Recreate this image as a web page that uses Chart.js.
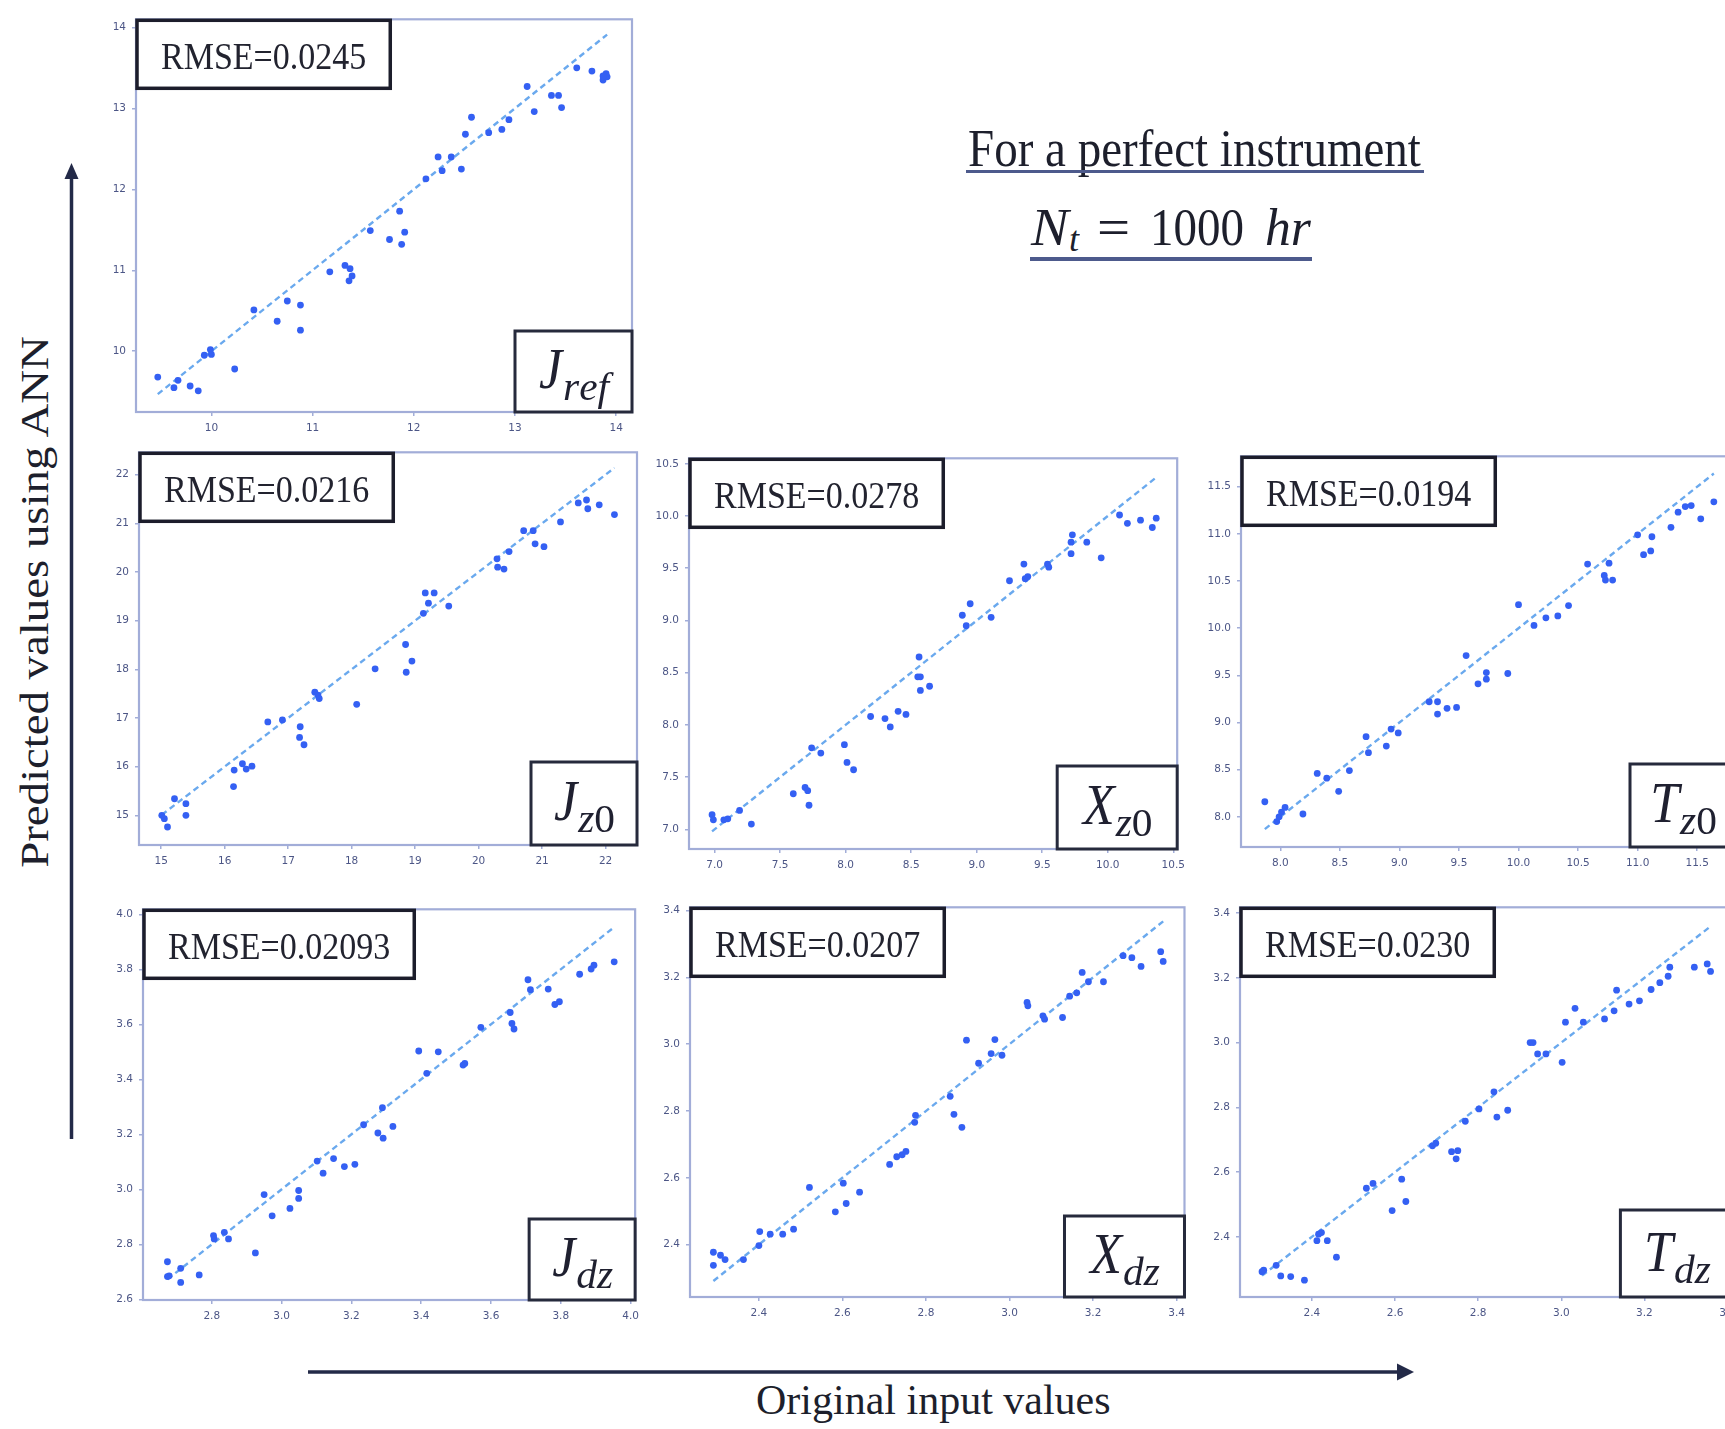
<!DOCTYPE html>
<html>
<head>
<meta charset="utf-8">
<script src="https://cdn.jsdelivr.net/npm/chart.js@4.4.1/dist/chart.umd.min.js"></script>
<style>
  html, body { margin: 0; padding: 0; background: #fff; }
  body { width: 1725px; height: 1429px; position: relative; overflow: hidden; }
  canvas.panel { position: absolute; }
  .txt { position: absolute; font-family: "Liberation Serif", "Times New Roman", serif; color: #1d1f2c;
         white-space: nowrap; line-height: 1; transform-origin: 0 83.75%; }
  .rule { position: absolute; background: #4d5a8c; height: 3.5px; }
  svg { position: absolute; left: 0; top: 0; }
</style>
</head>
<body>
<svg width="1725" height="1429">
  <line x1="71.5" y1="1139" x2="71.5" y2="176" stroke="#232a48" stroke-width="3.5"/>
  <polygon points="71.5,163 64.5,179 78.5,179" fill="#232a48"/>
  <line x1="308" y1="1372" x2="1400" y2="1372" stroke="#232a48" stroke-width="3.5"/>
  <polygon points="1414,1372 1397,1363.5 1397,1380.5" fill="#232a48"/>
</svg>

<div class="txt" style="font-size:47px;left:968px;top:127.3px;transform:scaleY(1.13);">For a perfect instrument</div>
<div class="rule" style="left:966px;top:169.5px;width:458px;"></div>

<div class="txt" style="font-size:47px;font-style:italic;left:1031px;top:205.6px;transform:scale(1.2,1.13);">N</div>
<div class="txt" style="font-size:33px;font-style:italic;left:1069px;top:224.4px;transform:scale(1.1,1.1);">t</div>
<div class="txt" style="font-size:47px;left:1097px;top:205.6px;transform:scale(1.25,1.13);">=</div>
<div class="txt" style="font-size:47px;left:1150px;top:205.6px;transform:scaleY(1.13);">1000</div>
<div class="txt" style="font-size:47px;font-style:italic;left:1265px;top:205.6px;transform:scale(1.1,1.13);">hr</div>
<div class="rule" style="left:1030px;top:257px;width:282px;"></div>

<div class="txt" style="font-size:40px;left:35px;top:602px;transform-origin:50% 50%;transform:translate(-50%,-50%) rotate(-90deg) scaleX(1.17);">Predicted values using ANN</div>
<div class="txt" style="font-size:42px;left:756px;top:1378.8px;">Original input values</div>

<script>
// ---- J_ref ----
const jrefOriginal  = [9.47,9.63,9.67,9.79,9.87,9.93,9.99,10.00,10.23,10.42,10.65,10.75,10.88,10.88,11.17,11.32,11.37,11.39,11.36,11.57,11.76,11.86,11.88,11.91,12.12,12.24,12.28,12.37,12.47,12.51,12.57,12.74,12.87,12.94,13.12,13.19,13.36,13.43,13.46,13.61,13.76,13.87,13.90,13.91,13.87];
const jrefPredicted = [9.68,9.55,9.64,9.57,9.51,9.95,10.02,9.96,9.78,10.51,10.37,10.62,10.57,10.26,10.98,11.06,11.02,10.93,10.87,11.49,11.38,11.73,11.32,11.47,12.13,12.40,12.23,12.40,12.25,12.68,12.89,12.70,12.74,12.86,13.27,12.96,13.16,13.16,13.01,13.50,13.46,13.35,13.43,13.39,13.40];
const jrefTicks = [10, 11, 12, 13, 14];

// ---- J_z0 ----
const jz0Original  = [15.01,15.05,15.10,15.21,15.39,15.39,16.14,16.15,16.28,16.34,16.43,16.68,16.91,17.19,17.18,17.25,17.42,17.47,17.49,18.08,18.37,18.85,18.86,18.95,19.13,19.21,19.16,19.30,19.53,20.29,20.30,20.40,20.48,20.71,20.86,20.89,21.03,21.29,21.57,21.70,21.72,21.90,22.14];
const jz0Predicted = [15.00,14.93,14.76,15.34,15.24,15.00,15.59,15.93,16.06,15.95,16.01,16.92,16.96,16.82,16.60,16.45,17.53,17.47,17.40,17.28,18.01,18.51,17.94,18.17,19.15,19.36,19.57,19.57,19.30,20.27,20.10,20.06,20.42,20.85,20.85,20.58,20.52,21.03,21.42,21.48,21.30,21.38,21.18];
const jz0Ticks = [15, 16, 17, 18, 19, 20, 21, 22];

// ---- X_z0 ----
const xz0Original  = [6.98,6.99,7.07,7.10,7.19,7.28,7.60,7.69,7.71,7.72,7.74,7.81,7.99,8.01,8.06,8.19,8.30,8.34,8.40,8.46,8.55,8.57,8.56,8.57,8.64,8.89,8.92,8.95,9.11,9.25,9.36,9.37,9.39,9.54,9.55,9.72,9.73,9.72,9.84,9.95,10.09,10.15,10.25,10.34,10.37];
const xz0Predicted = [7.14,7.09,7.09,7.10,7.18,7.05,7.34,7.40,7.37,7.23,7.78,7.73,7.81,7.64,7.57,8.08,8.06,7.98,8.13,8.10,8.46,8.46,8.65,8.33,8.37,9.05,8.95,9.16,9.03,9.38,9.54,9.40,9.42,9.54,9.51,9.75,9.82,9.64,9.75,9.60,10.01,9.93,9.96,9.89,9.98];
const xz0Ticks = [7.0, 7.5, 8.0, 8.5, 9.0, 9.5, 10.0, 10.5];

// ---- T_z0 ----
const tz0Original  = [7.87,7.97,7.99,8.01,8.04,8.19,8.31,8.39,8.49,8.58,8.72,8.74,8.89,8.93,8.99,9.25,9.32,9.32,9.40,9.48,9.56,9.66,9.73,9.73,9.91,10.00,10.13,10.23,10.33,10.42,10.58,10.72,10.73,10.79,10.76,11.00,11.05,11.11,11.12,11.28,11.34,11.40,11.45,11.53,11.64];
const tz0Predicted = [8.16,7.95,8.00,8.05,8.10,8.03,8.46,8.41,8.27,8.49,8.85,8.68,8.75,8.93,8.89,9.22,9.22,9.09,9.15,9.16,9.71,9.41,9.53,9.46,9.52,10.25,10.03,10.11,10.13,10.24,10.68,10.56,10.51,10.51,10.69,10.99,10.78,10.82,10.97,11.07,11.23,11.29,11.30,11.16,11.34];
const tz0Ticks = [8.0, 8.5, 9.0, 9.5, 10.0, 10.5, 11.0, 11.5];

// ---- J_dz ----
const jdzOriginal  = [2.673,2.673,2.678,2.711,2.711,2.764,2.805,2.807,2.836,2.848,2.925,2.950,2.973,3.024,3.049,3.049,3.102,3.119,3.149,3.180,3.210,3.235,3.276,3.291,3.289,3.319,3.393,3.416,3.449,3.520,3.525,3.571,3.655,3.660,3.666,3.706,3.713,3.764,3.783,3.796,3.854,3.887,3.895,3.953];
const jdzPredicted = [2.737,2.683,2.686,2.713,2.662,2.689,2.832,2.820,2.844,2.820,2.769,2.981,2.904,2.931,2.996,2.967,3.103,3.059,3.112,3.083,3.091,3.235,3.205,3.186,3.297,3.229,3.503,3.422,3.500,3.452,3.458,3.589,3.643,3.603,3.583,3.762,3.726,3.728,3.672,3.682,3.782,3.801,3.815,3.827];
const jdzXTicks = [2.8, 3.0, 3.2, 3.4, 3.6, 3.8, 4.0];
const jdzYTicks = [2.6, 2.8, 3.0, 3.2, 3.4, 3.6, 3.8, 4.0];

// ---- X_dz ----
const xdzOriginal  = [2.291,2.291,2.308,2.319,2.363,2.400,2.402,2.427,2.457,2.483,2.521,2.583,2.609,2.602,2.641,2.713,2.730,2.743,2.752,2.773,2.775,2.858,2.867,2.886,2.897,2.926,2.956,2.965,2.982,3.042,3.044,3.080,3.084,3.127,3.144,3.161,3.174,3.189,3.225,3.272,3.293,3.315,3.362,3.368];
const xdzPredicted = [2.377,2.338,2.368,2.355,2.355,2.397,2.439,2.431,2.431,2.446,2.571,2.498,2.523,2.584,2.557,2.640,2.663,2.669,2.679,2.766,2.787,2.844,2.790,2.751,3.012,2.943,2.972,3.014,2.967,3.125,3.115,3.085,3.075,3.080,3.144,3.154,3.215,3.187,3.187,3.265,3.259,3.233,3.277,3.248];
const xdzTicks = [2.4, 2.6, 2.8, 3.0, 3.2, 3.4];

// ---- T_dz ----
const tdzOriginal  = [2.280,2.284,2.314,2.325,2.349,2.382,2.412,2.416,2.423,2.437,2.459,2.531,2.547,2.593,2.616,2.626,2.690,2.698,2.736,2.751,2.747,2.769,2.802,2.838,2.845,2.871,2.925,2.932,2.943,2.963,3.002,3.010,3.033,3.053,3.104,3.127,3.133,3.163,3.188,3.216,3.237,3.257,3.261,3.320,3.351,3.359];
const tdzPredicted = [2.292,2.297,2.312,2.279,2.277,2.266,2.388,2.408,2.413,2.388,2.337,2.550,2.565,2.481,2.578,2.509,2.681,2.689,2.663,2.666,2.641,2.757,2.795,2.848,2.770,2.791,3.000,3.000,2.965,2.965,2.939,3.063,3.106,3.063,3.073,3.098,3.162,3.119,3.129,3.164,3.185,3.205,3.233,3.233,3.243,3.220];
const tdzTicks = [2.4, 2.6, 2.8, 3.0, 3.2, 3.4];

// Scale space reserved around each plot area (px)
const YW = 46, XH = 30, TP = 6, RP = 6;
const SPINE = '#a2add8';
const TICK_TEXT = '#4c5686';

// Frame, RMSE box and symbol box drawn on top of each panel
const panelDecor = {
  id: 'panelDecor',
  afterDatasetsDraw(chart, args, o) {
    const a = chart.chartArea, ctx = chart.ctx;
    ctx.save();
    ctx.strokeStyle = SPINE; ctx.lineWidth = 2.2;
    ctx.strokeRect(a.left, a.top, a.right - a.left, a.bottom - a.top);

    // RMSE box (top-left)
    ctx.font = '34px "Liberation Serif"';
    const tw = ctx.measureText(o.rmse).width;
    const bw = tw + 48, bh = 68, bx = a.left + 1, by = a.top + 1;
    ctx.fillStyle = '#fff'; ctx.fillRect(bx, by, bw, bh);
    ctx.strokeStyle = '#1c1d2b'; ctx.lineWidth = 3.5; ctx.strokeRect(bx, by, bw, bh);
    ctx.fillStyle = '#22232f'; ctx.textAlign = 'center'; ctx.textBaseline = 'alphabetic';
    ctx.save(); ctx.translate(bx + bw / 2, by + 49); ctx.scale(1, 1.12); ctx.fillText(o.rmse, 0, 0); ctx.restore();

    // symbol box (bottom-right)
    const sw = o.symW, sh = o.symH, sx = a.right - sw, sy = a.bottom - sh;
    ctx.fillStyle = '#fff'; ctx.fillRect(sx, sy, sw, sh);
    ctx.strokeStyle = '#262a3c'; ctx.lineWidth = 3; ctx.strokeRect(sx, sy, sw, sh);
    ctx.textAlign = 'left';
    const mainFont = 'italic 52px "Liberation Serif"';
    const subIt = 'italic 36px "Liberation Serif"', subUp = '36px "Liberation Serif"';
    ctx.font = mainFont;
    const mw = ctx.measureText(o.sym).width;
    let subW = 0;
    for (const ch of o.sub) { ctx.font = /[0-9]/.test(ch) ? subUp : subIt; subW += ctx.measureText(ch).width * 1.15; }
    const x0 = sx + (sw - mw - subW) / 2;
    const base = sy + sh * 0.7;
    ctx.fillStyle = '#1f2030';
    ctx.save(); ctx.translate(x0, base); ctx.scale(1, 1.1); ctx.font = mainFont; ctx.fillText(o.sym, 0, 0); ctx.restore();
    let cx = x0 + mw + 1;
    for (const ch of o.sub) {
      ctx.font = /[0-9]/.test(ch) ? subUp : subIt;
      const w = ctx.measureText(ch).width;
      ctx.save(); ctx.translate(cx, base + 12); ctx.scale(1.15, 1.1); ctx.fillText(ch, 0, 0); ctx.restore();
      cx += w * 1.15;
    }
    ctx.restore();
  }
};

const panels = [
  { x: jrefOriginal, y: jrefPredicted, xt: jrefTicks, yt: jrefTicks, dec: 0, xr: [9.255, 14.156], yr: [9.249, 14.10],
    L: 136, T: 13, R: 632, B: 412, rmse: 'RMSE=0.0245', sym: 'J', sub: 'ref', symW: 117, symH: 81 },
  { x: jz0Original, y: jz0Predicted, xt: jz0Ticks, yt: jz0Ticks, dec: 0, xr: [14.651, 22.495], yr: [14.39, 22.46],
    L: 139, T: 446, R: 637, B: 845, rmse: 'RMSE=0.0216', sym: 'J', sub: 'z0', symW: 106, symH: 83 },
  { x: xz0Original, y: xz0Predicted, xt: xz0Ticks, yt: xz0Ticks, dec: 1, xr: [6.804, 10.53], yr: [6.811, 10.553],
    L: 689, T: 452, R: 1185, B: 849, rmse: 'RMSE=0.0278', sym: 'X', sub: 'z0', symW: 120, symH: 83 },
  { x: tz0Original, y: tz0Predicted, xt: tz0Ticks, yt: tz0Ticks, dec: 1, xr: [7.67, 11.826], yr: [7.68, 11.823],
    L: 1241, T: 450, R: 1736, B: 847, rmse: 'RMSE=0.0194', sym: 'T', sub: 'z0', symW: 106, symH: 83 },
  { x: jdzOriginal, y: jdzPredicted, xt: jdzXTicks, yt: jdzYTicks, dec: 1, xr: [2.603, 4.013], yr: [2.598, 4.018],
    L: 143, T: 903, R: 639, B: 1300, rmse: 'RMSE=0.02093', sym: 'J', sub: 'dz', symW: 106, symH: 81 },
  { x: xdzOriginal, y: xdzPredicted, xt: xdzTicks, yt: xdzTicks, dec: 1, xr: [2.235, 3.419], yr: [2.243, 3.41],
    L: 690, T: 901, R: 1185, B: 1297, rmse: 'RMSE=0.0207', sym: 'X', sub: 'dz', symW: 120, symH: 81 },
  { x: tdzOriginal, y: tdzPredicted, xt: tdzTicks, yt: tdzTicks, dec: 1, xr: [2.227, 3.414], yr: [2.214, 3.418],
    L: 1240, T: 901, R: 1736, B: 1297, rmse: 'RMSE=0.0230', sym: 'T', sub: 'dz', symW: 113, symH: 87 }
];

function axis(range, ticks, dec, fitFn) {
  return {
    type: 'linear', min: range[0], max: range[1], bounds: 'data',
    afterBuildTicks: s => { s.ticks = ticks.map(v => ({ value: v })); },
    afterFit: fitFn,
    grid: { drawOnChartArea: false, drawTicks: true, tickLength: 4, color: SPINE, lineWidth: 1.5 },
    border: { display: false },
    ticks: { padding: 6, autoSkip: false, maxRotation: 0, color: TICK_TEXT,
             font: { family: 'DejaVu Sans', size: 10.5 },
             callback: v => dec ? Number(v).toFixed(dec) : String(v) }
  };
}

function makePanel(p) {
  const cv = document.createElement('canvas');
  const W = (p.R - p.L) + YW + RP, H = (p.B - p.T) + TP + XH;
  cv.width = W; cv.height = H;
  cv.className = 'panel';
  cv.style.left = (p.L - YW) + 'px'; cv.style.top = (p.T - TP) + 'px';
  cv.style.width = W + 'px'; cv.style.height = H + 'px';
  document.body.appendChild(cv);
  const lo = Math.min(...p.x), hi = Math.max(...p.x);
  new Chart(cv, {
    type: 'scatter',
    data: {
      datasets: [
        { type: 'line', data: [{ x: lo, y: lo }, { x: hi, y: hi }], borderColor: '#6aa9ee', borderWidth: 2.4,
          borderDash: [6, 4], pointRadius: 0, fill: false, order: 2 },
        { data: p.x.map((v, i) => ({ x: v, y: p.y[i] })), backgroundColor: '#3460f3', borderWidth: 0,
          pointRadius: 3.4, order: 1 }
      ]
    },
    options: {
      responsive: false, animation: false, devicePixelRatio: 1,
      layout: { padding: { top: TP, right: RP, left: 0, bottom: 0 }, autoPadding: false },
      plugins: { legend: { display: false }, tooltip: { enabled: false },
                 panelDecor: { rmse: p.rmse, sym: p.sym, sub: p.sub, symW: p.symW, symH: p.symH } },
      scales: {
        x: axis(p.xr, p.xt, p.dec, s => { s.height = XH; }),
        y: axis(p.yr, p.yt, p.dec, s => { s.width = YW; })
      }
    },
    plugins: [panelDecor]
  });
}

panels.forEach(makePanel);
</script>
</body>
</html>
